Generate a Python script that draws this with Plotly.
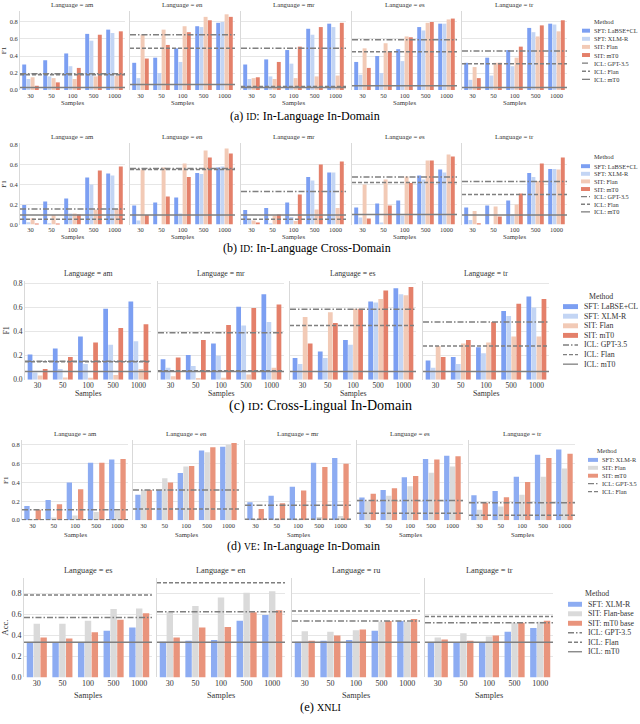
import plotly.graph_objects as go

W, H = 640, 724
SAMPLES = ["30", "50", "100", "500", "1000"]

# (a) ID: In-Language In-Domain  -- rows = languages, cols = samples
A_LANGS = ["am", "en", "mr", "es", "tr"]
A_LABSE = [[0.30, 0.35, 0.43, 0.66, 0.71],
           [0.32, 0.38, 0.49, 0.75, 0.79],
           [0.30, 0.36, 0.47, 0.72, 0.78],
           [0.33, 0.40, 0.48, 0.74, 0.78],
           [0.32, 0.38, 0.47, 0.73, 0.78]]
A_XLMR = [[0.13, 0.16, 0.28, 0.58, 0.67],
          [0.14, 0.20, 0.33, 0.74, 0.80],
          [0.13, 0.16, 0.31, 0.65, 0.74],
          [0.18, 0.20, 0.34, 0.70, 0.78],
          [0.12, 0.17, 0.28, 0.68, 0.77]]
A_FLAN = [[0.15, 0.14, 0.13, 0.16, 0.17],
          [0.65, 0.71, 0.75, 0.86, 0.89],
          [0.14, 0.13, 0.14, 0.16, 0.17],
          [0.49, 0.55, 0.63, 0.79, 0.83],
          [0.27, 0.32, 0.38, 0.63, 0.69]]
A_MT0 = [[0.05, 0.09, 0.26, 0.65, 0.69],
         [0.37, 0.53, 0.68, 0.82, 0.86],
         [0.15, 0.33, 0.51, 0.74, 0.79],
         [0.26, 0.45, 0.62, 0.80, 0.84],
         [0.14, 0.32, 0.51, 0.76, 0.82]]
A_ICL_GPT = [0.19, 0.65, 0.49, 0.59, 0.46]
A_ICL_FLAN = [0.18, 0.49, 0.04, 0.45, 0.31]
A_ICL_MT0 = [0.03, 0.065, 0.03, 0.05, 0.03]

# (b) ID: In-Language Cross-Domain
B_LANGS = ["am", "en", "mr", "es", "tr"]
B_LABSE = [[0.195, 0.23, 0.26, 0.47, 0.51],
           [0.19, 0.22, 0.27, 0.515, 0.57],
           [0.145, 0.165, 0.22, 0.475, 0.52],
           [0.17, 0.21, 0.24, 0.49, 0.55],
           [0.17, 0.19, 0.24, 0.515, 0.555]]
B_XLMR = [[0.023, 0.013, 0.11, 0.40, 0.49],
          [0.04, 0.0, 0.11, 0.505, 0.58],
          [0.046, 0.013, 0.076, 0.44, 0.52],
          [0.07, 0.02, 0.09, 0.45, 0.52],
          [0.046, 0.0, 0.10, 0.475, 0.555]]
B_FLAN = [[0.063, 0.096, 0.11, 0.15, 0.155],
          [0.55, 0.57, 0.61, 0.74, 0.76],
          [0.04, 0.09, 0.036, 0.15, 0.165],
          [0.40, 0.45, 0.48, 0.64, 0.70],
          [0.135, 0.18, 0.20, 0.435, 0.55]]
B_MT0 = [[0.01, 0.01, 0.10, 0.54, 0.58],
         [0.096, 0.28, 0.475, 0.67, 0.71],
         [0.02, 0.10, 0.30, 0.60, 0.63],
         [0.06, 0.19, 0.415, 0.64, 0.68],
         [0.013, 0.08, 0.31, 0.61, 0.67]]
B_ICL_GPT = [0.155, 0.56, 0.33, 0.475, 0.43]
B_ICL_FLAN = [0.053, 0.55, 0.053, 0.42, 0.30]
B_ICL_MT0 = [0.096, 0.096, 0.096, 0.10, 0.096]

# (c) ID: Cross-Lingual In-Domain
C_LANGS = ["am", "mr", "es", "tr"]
C_LABSE = [[0.21, 0.26, 0.36, 0.59, 0.65],
           [0.17, 0.205, 0.30, 0.605, 0.71],
           [0.18, 0.235, 0.33, 0.65, 0.76],
           [0.16, 0.19, 0.27, 0.57, 0.69]]
C_XLMR = [[0.06, 0.09, 0.13, 0.29, 0.32],
          [0.10, 0.115, 0.20, 0.45, 0.48],
          [0.13, 0.18, 0.29, 0.64, 0.71],
          [0.10, 0.13, 0.22, 0.53, 0.60]]
C_FLAN = [[0.035, 0.02, 0.016, 0.04, 0.09],
          [0.03, 0.014, 0.016, 0.044, 0.10],
          [0.52, 0.56, 0.59, 0.67, 0.70],
          [0.28, 0.30, 0.31, 0.36, 0.36]]
C_MT0 = [[0.09, 0.19, 0.31, 0.43, 0.46],
         [0.185, 0.33, 0.455, 0.595, 0.625],
         [0.30, 0.47, 0.59, 0.74, 0.77],
         [0.19, 0.33, 0.48, 0.63, 0.67]]
C_ICL_GPT = [0.153, 0.39, 0.585, 0.48]
C_ICL_FLAN = [0.15, 0.074, 0.45, 0.28]
C_ICL_MT0 = [0.068, 0.068, 0.068, 0.068]

# (d) VE: In-Language In-Domain
D_LANGS = ["am", "en", "mr", "es", "tr"]
D_XLMR = [[0.15, 0.215, 0.40, 0.61, 0.645],
          [0.27, 0.32, 0.50, 0.74, 0.78],
          [0.19, 0.26, 0.355, 0.61, 0.66],
          [0.24, 0.32, 0.455, 0.65, 0.685],
          [0.265, 0.31, 0.46, 0.695, 0.75]]
D_FLAN = [[0.01, 0.03, 0.05, 0.087, 0.10],
          [0.32, 0.445, 0.57, 0.72, 0.80],
          [0.007, 0.007, 0.01, 0.035, 0.045],
          [0.20, 0.26, 0.36, 0.505, 0.57],
          [0.11, 0.145, 0.27, 0.46, 0.55]]
D_MT0 = [[0.11, 0.17, 0.33, 0.61, 0.65],
         [0.32, 0.40, 0.575, 0.775, 0.82],
         [0.12, 0.18, 0.315, 0.565, 0.60],
         [0.28, 0.34, 0.47, 0.645, 0.68],
         [0.185, 0.245, 0.405, 0.66, 0.705]]
D_ICL_GPT = [0.11, 0.32, 0.16, 0.21, 0.185]
D_ICL_FLAN = [0.005, 0.118, 0.01, 0.073, 0.052]

# (e) XNLI
E_LANGS = ["es", "en", "ru", "tr"]
E_XLMR = [[0.335, 0.335, 0.335, 0.445, 0.475],
          [0.34, 0.35, 0.357, 0.54, 0.595],
          [0.34, 0.35, 0.357, 0.445, 0.536],
          [0.335, 0.335, 0.335, 0.435, 0.47]]
E_FLAN = [[0.51, 0.51, 0.54, 0.65, 0.655],
          [0.62, 0.68, 0.76, 0.805, 0.82],
          [0.44, 0.435, 0.45, 0.53, 0.53],
          [0.38, 0.42, 0.39, 0.52, 0.53]]
E_MT0 = [[0.38, 0.37, 0.43, 0.55, 0.61],
         [0.38, 0.475, 0.48, 0.62, 0.64],
         [0.35, 0.40, 0.455, 0.536, 0.555],
         [0.36, 0.35, 0.40, 0.52, 0.54]]
E_ICL_GPT = [0.57, 0.625, 0.536, 0.52]
E_ICL_FLAN = [0.785, 0.90, 0.633, 0.58]
E_ICL_MT0 = [0.335, 0.335, 0.335, 0.335]

C4 = ["#7c9ff2", "#c3d5f4", "#f2cab6", "#e4806a"]
C3 = ["#8dacf2", "#dadada", "#e9947c"]
LINE_C = "#7f7f7f"
DASH = {"gpt": "6px,2px,1.5px,2px", "flan": "4px,2px", "mt0": "solid"}
FONT = "Liberation Serif"

rows = [
    dict(langs=A_LANGS, bars=[A_LABSE, A_XLMR, A_FLAN, A_MT0], colors=C4,
         lines=[("gpt", A_ICL_GPT), ("flan", A_ICL_FLAN), ("mt0", A_ICL_MT0)],
         names=["SFT: LaBSE+CL", "SFT: XLM-R", "SIT: Flan", "SIT: mT0",
                "ICL: GPT-3.5", "ICL: Flan", "ICL: mT0"],
         x0=[20, 130, 241, 352, 462], w=105, top=8, bottom=88, yr=[0, 0.93],
         fs=6.5, ylab="F1", samp_dy=13,
         cap="(a) <span style='font-size:9.5px'>ID</span>: In-Language In-Domain",
         cap_xy=(305, 114), cap_fs=12,
         leg=dict(title=(604, 19), y0=28, dy=8.2, sw=(582, 590), tx=592, fs=6.3, h=4)),
    dict(langs=B_LANGS, bars=[B_LABSE, B_XLMR, B_FLAN, B_MT0], colors=C4,
         lines=[("gpt", B_ICL_GPT), ("flan", B_ICL_FLAN), ("mt0", B_ICL_MT0)],
         names=["SFT: LaBSE+CL", "SFT: XLM-R", "SIT: Flan", "SIT: mT0",
                "ICL: GPT-3.5", "ICL: Flan", "ICL: mT0"],
         x0=[20, 130, 241, 352, 462], w=105, top=142, bottom=224, yr=[0, 0.81],
         fs=6.5, ylab="F1", samp_dy=12,
         cap="(b) <span style='font-size:9.5px'>ID</span>: In-Language Cross-Domain",
         cap_xy=(307, 248), cap_fs=12,
         leg=dict(title=(604, 155), y0=165, dy=7.7, sw=(581, 590), tx=592, fs=6.3, h=4)),
    dict(langs=C_LANGS, bars=[C_LABSE, C_XLMR, C_FLAN, C_MT0], colors=C4,
         lines=[("gpt", C_ICL_GPT), ("flan", C_ICL_FLAN), ("mt0", C_ICL_MT0)],
         names=["SFT: LaBSE+CL", "SFT: XLM-R", "SIT: Flan", "SIT: mT0",
                "ICL: GPT-3.5", "ICL: Flan", "ICL: mT0"],
         x0=[25, 158, 290, 423], w=126, top=281, bottom=381, yr=[0, 0.82],
         fs=7.5, ylab="F1", samp_dy=14,
         cap="(c) <span style='font-size:11px'>ID</span>: Cross-Lingual In-Domain",
         cap_xy=(320, 408), cap_fs=14,
         leg=dict(title=(601, 297), y0=307, dy=9.7, sw=(563, 578), tx=582, fs=7.8, h=5)),
    dict(langs=D_LANGS, bars=[D_XLMR, D_FLAN, D_MT0], colors=C3,
         lines=[("gpt", D_ICL_GPT), ("flan", D_ICL_FLAN)],
         names=["SFT: XLM-R", "SIT: Flan", "SIT: mT0", "ICL: GPT-3.5", "ICL: Flan"],
         x0=[22, 133, 245, 357, 469], w=106, top=442, bottom=523, yr=[0, 0.85],
         fs=6.5, ylab="F1", samp_dy=14,
         cap="(d) <span style='font-size:9.5px'>VE</span>: In-Language In-Domain",
         cap_xy=(303, 549), cap_fs=12,
         leg=dict(title=(607, 453), y0=462, dy=8, sw=(588, 598), tx=600, fs=6.3, h=4)),
    dict(langs=E_LANGS, bars=[E_XLMR, E_FLAN, E_MT0], colors=C3,
         lines=[("gpt", E_ICL_GPT), ("flan", E_ICL_FLAN), ("mt0", E_ICL_MT0)],
         names=["SFT: XLM-R", "SIT: Flan-base", "SIT: mT0 base",
                "ICL: GPT-3.5", "ICL: Flan", "ICL: mT0"],
         x0=[24, 157, 292, 425], w=128, top=581, bottom=682, yr=[0, 0.95],
         fs=8, ylab="Acc.", samp_dy=18,
         cap="(e) <span style='font-size:10px'>XNLI</span>",
         cap_xy=(320, 712), cap_fs=12.5,
         leg=dict(title=(597, 597), y0=608, dy=9.6, sw=(568, 582), tx=586, fs=7.8, h=5)),
]


def fx(px):
    return px / W


def fy(py):
    return 1 - py / H


fig = go.Figure()
layout = {}
shapes = []
annotations = []
n = 0
for row in rows:
    fs = row["fs"]
    for i, lang in enumerate(row["langs"]):
        n += 1
        xid = "x" if n == 1 else f"x{n}"
        yid = "y" if n == 1 else f"y{n}"
        x0 = row["x0"][i]
        layout["xaxis" if n == 1 else f"xaxis{n}"] = dict(
            domain=[fx(x0), fx(x0 + row["w"])], anchor=yid, type="category",
            showgrid=False, zeroline=False, showline=False, ticks="", ticklen=0,
            tickfont=dict(size=fs, color="#333"))
        layout["yaxis" if n == 1 else f"yaxis{n}"] = dict(
            domain=[fy(row["bottom"]), fy(row["top"])], anchor=xid, range=row["yr"],
            dtick=0.2, tickformat=".1f", showgrid=True, gridcolor="#e6e6e6", gridwidth=0.8,
            zeroline=False, showline=True, linecolor="#d9d9d9", linewidth=0.8,
            showticklabels=(i == 0), ticks="", ticklen=0, tickfont=dict(size=fs, color="#333"),
            title=dict(text=row["ylab"] if i == 0 else "", font=dict(size=fs + 0.5, color="#333"),
                       standoff=2))
        for vals, color in zip(row["bars"], row["colors"]):
            fig.add_trace(go.Bar(x=SAMPLES, y=vals[i], xaxis=xid, yaxis=yid,
                                 marker=dict(color=color, line=dict(width=0)),
                                 showlegend=False, hoverinfo="skip"))
        for kind, vals in row["lines"]:
            shapes.append(dict(type="line", xref=f"{xid} domain", yref=yid, x0=0, x1=1,
                               y0=vals[i], y1=vals[i],
                               line=dict(color=LINE_C, width=1.5, dash=DASH[kind])))
        annotations.append(dict(text=f"Language = {lang}", xref="paper", yref="paper",
                                x=fx(x0 + row["w"] / 2), y=fy(row["top"] - 1),
                                xanchor="center", yanchor="bottom", showarrow=False,
                                font=dict(size=fs + 0.3, color="#333")))
        annotations.append(dict(text="Samples", xref="paper", yref="paper",
                                x=fx(x0 + row["w"] / 2), y=fy(row["bottom"] + row["samp_dy"]),
                                xanchor="center", yanchor="middle", showarrow=False,
                                font=dict(size=fs + 0.3, color="#333")))
    # caption
    cx, cy = row["cap_xy"]
    annotations.append(dict(text=row["cap"], xref="paper", yref="paper", x=fx(cx), y=fy(cy),
                            xanchor="center", yanchor="middle", showarrow=False,
                            font=dict(size=row["cap_fs"], color="#000")))
    # legend drawn by hand (plotly legend rows are too tall here)
    lg = row["leg"]
    annotations.append(dict(text="Method", xref="paper", yref="paper",
                            x=fx(lg["title"][0]), y=fy(lg["title"][1]),
                            xanchor="center", yanchor="middle", showarrow=False,
                            font=dict(size=lg["fs"], color="#333")))
    nb = len(row["bars"])
    line_kinds = [k for k, _ in row["lines"]]
    for j, name in enumerate(row["names"]):
        yy = lg["y0"] + j * lg["dy"]
        sx0, sx1 = lg["sw"]
        if j < nb:
            shapes.append(dict(type="rect", xref="paper", yref="paper",
                               x0=fx(sx0), x1=fx(sx1), y0=fy(yy - lg["h"] / 2), y1=fy(yy + lg["h"] / 2),
                               fillcolor=row["colors"][j], line=dict(width=0)))
        else:
            kind = line_kinds[j - nb]
            shapes.append(dict(type="line", xref="paper", yref="paper",
                               x0=fx(sx0), x1=fx(sx1), y0=fy(yy), y1=fy(yy),
                               line=dict(color=LINE_C, width=1.3, dash=DASH[kind])))
        annotations.append(dict(text=name, xref="paper", yref="paper", x=fx(lg["tx"]), y=fy(yy),
                                xanchor="left", yanchor="middle", showarrow=False,
                                font=dict(size=lg["fs"], color="#333")))

fig.update_layout(
    width=W, height=H, margin=dict(l=0, r=0, t=0, b=0),
    paper_bgcolor="white", plot_bgcolor="white",
    font=dict(family=FONT, color="#333"),
    barmode="group", bargap=0.2, bargroupgap=0.06,
    shapes=shapes, annotations=annotations, showlegend=False,
    **layout)

# the page's default 8px body margin would push the figure off the window
fig.write_html("out.html", config={"displayModeBar": False},
               post_script="document.body.style.margin='0';document.body.style.overflow='hidden';")
